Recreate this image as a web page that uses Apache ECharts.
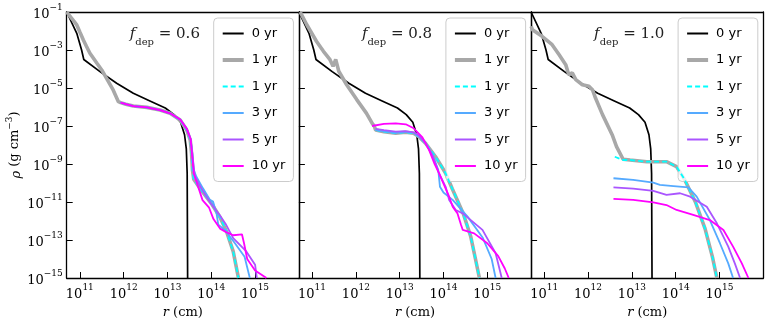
<!DOCTYPE html>
<html>
<head>
<meta charset="utf-8">
<script src="https://cdn.jsdelivr.net/npm/echarts@6/dist/echarts.min.js"></script>
<style>
  html, body { margin: 0; padding: 0; background: #fff; }
  #chart { width: 769px; height: 325px; }
</style>
</head>
<body>
<div id="chart"></div>
<script>
// values are log10(r / cm) and log10(rho / g cm^-3)
var fdep = ['0.6', '0.8', '1.0'];
var xTicks = [11, 12, 13, 14, 15];
var yTicks = [-1, -3, -5, -7, -9, -11, -13, -15];
var seriesKeys = ['t0', 't1g', 't1', 't3', 't5', 't10'];
var seriesLabels = ['0 yr', '1 yr', '1 yr', '3 yr', '5 yr', '10 yr'];

// initial profile, same in every panel
var rho0 = [[10.70,-1.0],[10.93,-2.12],[11.04,-3.0],[11.09,-3.5],[11.46,-4.14],[11.84,-4.75],[12.22,-5.28],
  [12.60,-5.68],[12.95,-6.05],[13.15,-6.4],[13.3,-6.8],[13.39,-7.46],[13.43,-8.2],[13.45,-9.5],[13.46,-15.0]];

// f_dep = 0.6
var gray06 = [[10.70,-1.0],[10.8,-1.3],[10.93,-1.68],[11.0,-2.05],[11.08,-2.47],[11.15,-2.8],[11.23,-3.17],
  [11.39,-3.7],[11.5,-4.05],[11.61,-4.49],[11.76,-5.1],[11.88,-5.72],[11.93,-5.77],[12.05,-5.85],[12.22,-5.95],
  [12.53,-6.02],[12.83,-6.16],[13.06,-6.33],[13.29,-6.68],[13.44,-7.21],[13.52,-7.74],[13.55,-8.44],[13.57,-9.3],
  [13.6,-9.8],[13.74,-10.28],[14.0,-11.07],[14.2,-11.8],[14.35,-12.56],[14.5,-13.6],[14.62,-15.0]];
var cyan06 = [[11.93,-5.77],[12.05,-5.85],[12.22,-5.95],[12.53,-6.02],[12.83,-6.16],[13.06,-6.33],[13.29,-6.68],
  [13.44,-7.21],[13.52,-7.74],[13.55,-8.44],[13.57,-9.3],[13.6,-9.8],[13.74,-10.28],[14.0,-11.07],[14.2,-11.8],
  [14.35,-12.56],[14.5,-13.6],[14.62,-15.0]];
var t3_06 = [[11.93,-5.77],[12.05,-5.85],[12.22,-5.95],[12.53,-6.02],[12.83,-6.16],[13.06,-6.33],[13.29,-6.66],
  [13.44,-7.15],[13.53,-7.7],[13.57,-8.5],[13.6,-9.3],[13.66,-9.67],[13.81,-10.28],[13.97,-10.89],[14.04,-10.98],
  [14.12,-11.6],[14.16,-12.2],[14.31,-12.47],[14.54,-13.17],[14.76,-13.88],[14.88,-15.0]];
var t5_06 = [[11.93,-5.77],[12.05,-5.85],[12.22,-5.95],[12.53,-6.02],[12.83,-6.16],[13.06,-6.33],[13.29,-6.66],
  [13.44,-7.15],[13.53,-7.7],[13.57,-8.5],[13.62,-9.6],[13.8,-10.4],[14.0,-11.1],[14.19,-11.68],[14.34,-12.2],
  [14.5,-12.9],[14.8,-13.6],[15.0,-14.3],[15.04,-15.0]];
var t10_06 = [[11.93,-5.77],[12.05,-5.85],[12.22,-5.95],[12.53,-6.02],[12.83,-6.16],[13.06,-6.33],[13.29,-6.66],
  [13.44,-7.15],[13.53,-7.7],[13.56,-8.5],[13.6,-9.5],[13.7,-10.2],[13.8,-10.9],[13.95,-11.3],[14.05,-11.9],
  [14.2,-12.4],[14.35,-12.6],[14.5,-12.75],[14.7,-12.7],[14.75,-13.2],[14.82,-14.0],[15.0,-14.6],[15.26,-15.0]];

// f_dep = 0.8
var gray08 = [[10.73,-1.0],[10.88,-1.67],[11.1,-2.54],[11.26,-3.07],[11.41,-3.51],[11.48,-3.86],[11.54,-3.5],
  [11.61,-4.12],[11.79,-4.83],[12.02,-5.61],[12.24,-6.32],[12.38,-6.89],[12.42,-7.0],[12.45,-7.21],[12.64,-7.3],
  [12.91,-7.38],[13.13,-7.33],[13.32,-7.38],[13.44,-7.56],[13.59,-7.91],[13.82,-8.62],[14.05,-9.49],[14.2,-10.3],
  [14.45,-11.6],[14.62,-12.8],[14.73,-14.0],[14.82,-15.0]];
var cyan08 = [[12.45,-7.21],[12.64,-7.3],[12.91,-7.38],[13.13,-7.33],[13.32,-7.38],[13.44,-7.56],[13.59,-7.91],
  [13.82,-8.62],[14.05,-9.49],[14.2,-10.3],[14.45,-11.6],[14.62,-12.8],[14.73,-14.0],[14.82,-15.0]];
var t3_08 = [[12.45,-7.2],[12.64,-7.28],[12.91,-7.36],[13.13,-7.31],[13.32,-7.36],[13.44,-7.54],[13.59,-7.9],
  [13.75,-8.5],[13.88,-9.3],[13.92,-10.2],[14.0,-10.5],[14.21,-10.89],[14.55,-11.77],[14.9,-12.9],[15.1,-14.0],
  [15.19,-15.0]];
var t5_08 = [[12.45,-7.15],[12.64,-7.22],[12.91,-7.3],[13.13,-7.27],[13.32,-7.33],[13.44,-7.52],[13.59,-7.9],
  [13.75,-8.55],[13.9,-9.5],[14.05,-10.2],[14.13,-10.89],[14.28,-11.42],[14.44,-11.6],[14.89,-12.47],
  [15.19,-13.7],[15.33,-15.0]];
var t10_08 = [[12.37,-7.0],[12.64,-6.89],[12.91,-6.86],[13.14,-6.91],[13.32,-7.12],[13.52,-7.6],[13.67,-8.26],
  [13.79,-8.96],[13.9,-9.49],[14.05,-10.3],[14.13,-10.72],[14.21,-11.25],[14.32,-11.6],[14.4,-12.2],[14.44,-12.47],
  [14.7,-12.65],[15.0,-13.17],[15.25,-13.85],[15.4,-14.5],[15.49,-15.0]];

// f_dep = 1.0
var gray10 = [[10.7,-1.75],[10.73,-1.93],[10.95,-2.28],[11.18,-2.72],[11.34,-3.25],[11.49,-3.77],[11.56,-4.3],
  [11.64,-4.2],[11.72,-4.56],[11.87,-4.83],[12.02,-4.91],[12.1,-5.09],[12.17,-5.53],[12.33,-6.4],[12.55,-7.46],
  [12.65,-8.09],[12.8,-8.75],[12.96,-8.79],[13.34,-8.88],[13.79,-8.88],[14.02,-9.14],[14.2,-9.8],[14.45,-11.0],
  [14.67,-12.4],[14.84,-13.9],[14.94,-15.0]];
var cyan10 = [[12.61,-8.62],[12.8,-8.79],[12.96,-8.79],[13.34,-8.88],[13.79,-8.88],[14.02,-9.14],[14.2,-9.8],
  [14.45,-11.0],[14.67,-12.4],[14.84,-13.9],[14.94,-15.0]];
var t3_10 = [[12.58,-9.75],[13.03,-9.84],[13.49,-9.98],[13.64,-10.1],[13.95,-10.16],[14.29,-10.23],[14.48,-10.72],
  [14.78,-11.95],[15.01,-13.17],[15.2,-14.23],[15.31,-15.0]];
var t5_10 = [[12.58,-10.23],[13.03,-10.3],[13.49,-10.42],[13.79,-10.63],[14.1,-10.54],[14.33,-10.72],[14.71,-11.25],
  [14.94,-12.12],[15.2,-13.35],[15.35,-14.23],[15.47,-15.0]];
var t10_10 = [[12.58,-10.84],[13.03,-10.89],[13.49,-11.02],[13.79,-11.16],[14.02,-11.42],[14.4,-11.68],[14.78,-11.95],
  [15.09,-12.47],[15.31,-13.35],[15.51,-14.23],[15.66,-15.0]];

var panels = [
  [rho0, gray06, cyan06, t3_06, t5_06, t10_06],
  [rho0, gray08, cyan08, t3_08, t5_08, t10_08],
  [rho0, gray10, cyan10, t3_10, t5_10, t10_10]
];

var chart = echarts.init(document.getElementById('chart'));

var lefts = [66.7, 298.9, 531.1];
var gw = 232.2;
var serif = 'DejaVu Serif';
var styles = [
  {color: '#000000', width: 1.7, type: 'solid'},
  {color: '#a8a8a8', width: 3.6, type: 'solid'},
  {color: '#00ffff', width: 1.8, type: [5, 3]},
  {color: '#55aaff', width: 1.8, type: 'solid'},
  {color: '#aa55ff', width: 1.8, type: 'solid'},
  {color: '#ff00ff', width: 1.8, type: 'solid'}
];
var legendWidths = [2, 4, 2, 2, 2, 2];
var supRich = {
  b: {fontFamily: serif, fontSize: 13, color: '#000', lineHeight: 18, verticalAlign: 'bottom'},
  s: {fontFamily: serif, fontSize: 9, color: '#000', lineHeight: 18, verticalAlign: 'top'}
};

var grids = [], xAxes = [], yAxes = [], series = [], legends = [], titles = [];
panels.forEach(function(curves, p) {
  grids.push({left: lefts[p], top: 12, width: gw, height: 266, containLabel: false});
  xAxes.push({
    type: 'value', gridIndex: p, min: 10.7, max: 16,
    splitLine: {show: false},
    axisLine: {show: true, onZero: false, lineStyle: {color: '#000', width: 1.3}},
    axisTick: {show: true, inside: true, length: 6, customValues: xTicks, lineStyle: {color: '#000'}},
    axisLabel: {
      show: true, margin: 5, customValues: xTicks, rich: supRich,
      formatter: function(v) { return '{b|10}{s|' + Math.round(v) + '}'; }
    },
    name: '{i|r} (cm)', nameLocation: 'middle', nameGap: 24,
    nameTextStyle: {
      fontFamily: serif, fontSize: 13, color: '#000',
      rich: {i: {fontFamily: serif, fontStyle: 'italic', fontSize: 13, color: '#000'}}
    }
  });
  // top spine
  xAxes.push({
    type: 'value', gridIndex: p, position: 'top', min: 10.7, max: 16,
    axisLine: {show: true, onZero: false, lineStyle: {color: '#000', width: 1.3}},
    axisTick: {show: false}, axisLabel: {show: false}, splitLine: {show: false}
  });
  yAxes.push({
    type: 'value', gridIndex: p, min: -15, max: -1, interval: 2,
    splitLine: {show: false},
    axisLine: {show: true, onZero: false, lineStyle: {color: '#000', width: 1.3}},
    axisTick: {show: true, inside: true, length: 6, lineStyle: {color: '#000'}},
    axisLabel: {
      show: p === 0, margin: 4, rich: supRich,
      formatter: function(v) { return '{b|10}{s|\u2212' + Math.abs(Math.round(v)) + '}'; }
    },
    name: p === 0 ? '{i|\u03c1} (g cm{s|\u22123})' : '',
    nameLocation: 'middle', nameGap: 42, nameRotate: 90,
    nameTextStyle: {
      fontFamily: serif, fontSize: 13, color: '#000',
      rich: {
        i: {fontFamily: serif, fontStyle: 'italic', fontSize: 13, color: '#000', lineHeight: 18, verticalAlign: 'bottom'},
        s: {fontFamily: serif, fontSize: 9, color: '#000', lineHeight: 18, verticalAlign: 'top'}
      }
    }
  });
  // right spine
  yAxes.push({
    type: 'value', gridIndex: p, position: 'right', min: -15, max: -1,
    axisLine: {show: true, onZero: false, lineStyle: {color: '#000', width: 1.3}},
    axisTick: {show: false}, axisLabel: {show: false}, splitLine: {show: false}
  });
  curves.forEach(function(data, k) {
    series.push({
      name: seriesKeys[k], type: 'line', xAxisIndex: 2 * p, yAxisIndex: 2 * p,
      data: data, showSymbol: false, symbol: 'none', clip: true, z: 2 + k,
      lineStyle: styles[k], itemStyle: {color: styles[k].color},
      emphasis: {disabled: true}
    });
  });
  legends.push({
    left: lefts[p] + 147, top: 18, orient: 'vertical',
    data: seriesKeys.map(function(key, k) {
      return {name: key, lineStyle: {width: legendWidths[k]}};
    }),
    formatter: function(n) { return seriesLabels[seriesKeys.indexOf(n)]; },
    padding: [9, 8, 9, 7], itemWidth: 21, itemHeight: 10, itemGap: 13.5,
    borderColor: '#cccccc', borderWidth: 1, borderRadius: 4,
    backgroundColor: 'rgba(255,255,255,0.8)',
    selectedMode: false,
    itemStyle: {opacity: 0},
    textStyle: {fontFamily: 'DejaVu Sans', fontSize: 13, color: '#000', padding: [0, 0, 0, 3]}
  });
  titles.push({
    text: '{i|f}{s|dep}{n| = ' + fdep[p] + '}',
    left: lefts[p] + 58, top: 22,
    textStyle: {
      fontWeight: 'normal',
      rich: {
        i: {fontFamily: serif, fontStyle: 'italic', fontWeight: 'normal', fontSize: 15, color: '#222', lineHeight: 20, verticalAlign: 'top'},
        s: {fontFamily: serif, fontWeight: 'normal', fontSize: 10, color: '#222', lineHeight: 20, verticalAlign: 'bottom'},
        n: {fontFamily: serif, fontWeight: 'normal', fontSize: 15, color: '#222', lineHeight: 20, verticalAlign: 'top'}
      }
    }
  });
});

chart.setOption({
  animation: false,
  backgroundColor: '#fff',
  title: titles,
  grid: grids,
  xAxis: xAxes,
  yAxis: yAxes,
  legend: legends,
  series: series
});
</script>
</body>
</html>
